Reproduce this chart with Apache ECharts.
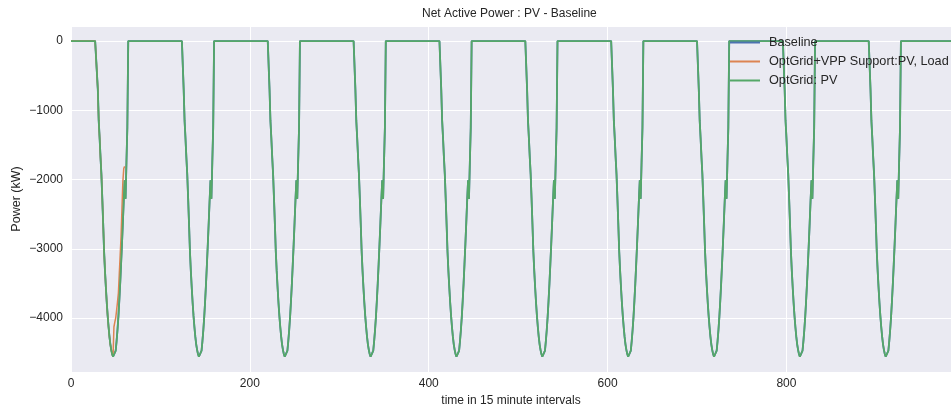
<!DOCTYPE html>
<html>
<head>
<meta charset="utf-8">
<script src="https://cdn.jsdelivr.net/npm/echarts@6/dist/echarts.min.js"></script>
<style>
html,body{margin:0;padding:0;background:#fff;}
#chart{width:951px;height:409px;}
</style>
</head>
<body>
<div id="chart"></div>
<script>
// ---- data ----
const seriesNames = ['Baseline', 'OptGrid+VPP Support:PV, Load', 'OptGrid: PV'];
const intervalsPerDay = 96;
const numIntervals = 990;
// daily PV dip (kW), intervals 29..64 of each day, 0 elsewhere
const pvDipStart = 29;
const pvDipValues = [0, -700, -1150, -1400, -1680, -1930, -2280, -2650, -3040, -3320,
  -3560, -3780, -3970, -4130, -4270, -4380, -4460, -4520, -4560, -4575,
  -4560, -4470, -4330, -4170, -3980, -3750, -3500, -3220, -2930, -2620,
  -2300, -2010, -2280, -1750, -1250, 0];
// OptGrid+VPP series: follows PV until interval 47, then these values (48..60), then ends
const vppDevStart = 48;
const vppDevValues = [-4130, -4060, -4000, -3890, -3770, -3640, -3360, -3090, -2820, -2420, -2030, -1840, -1810];
const xTicks = [0, 200, 400, 600, 800];
const yTicks = [-4000, -3000, -2000, -1000, 0];

// ---- build series ----
function pvAt(i) {
  const d = i % intervalsPerDay;
  const k = d - pvDipStart;
  return (k >= 0 && k < pvDipValues.length) ? pvDipValues[k] : 0;
}
const pvData = [];
for (let i = 0; i < numIntervals; i++) pvData.push([i, pvAt(i)]);
const baselineData = pvData.map(p => [p[0], p[1]]);
const vppData = [];
for (let i = 0; i < vppDevStart; i++) vppData.push([i, pvAt(i)]);
vppDevValues.forEach((v, k) => vppData.push([vppDevStart + k, v]));

const FONT = 'Liberation Sans, Arial, sans-serif';
const TXT = '#262626';
const chart = echarts.init(document.getElementById('chart'), null, {renderer: 'canvas'});
chart.setOption({
  animation: false,
  backgroundColor: '#ffffff',
  textStyle: {fontFamily: FONT},
  graphic: [{
    type: 'text', left: 510 - 88, top: 8,
    style: {text: 'Net Active Power : PV - Baseline', fontSize: 12, fontFamily: FONT, fill: TXT}
  }],
  grid: {left: 71, right: 0, top: 26, bottom: 37, backgroundColor: '#EAEAF2', show: true, borderWidth: 0,
    containLabel: false, outerBoundsMode: 'none'},
  legend: {
    orient: 'vertical', left: 730, top: 36, padding: 0, itemWidth: 30, itemHeight: 2, itemGap: 6,
    icon: 'rect',
    textStyle: {fontSize: 12.7, color: TXT, fontFamily: FONT, padding: [0, 0, 0, 4]},
    data: seriesNames
  },
  xAxis: {
    type: 'value', min: 0, max: 984, interval: 200,
    name: 'time in 15 minute intervals', nameLocation: 'middle', nameGap: 20,
    nameTextStyle: {fontSize: 12, color: TXT, fontFamily: FONT},
    axisLine: {show: false}, axisTick: {show: false},
    axisLabel: {
      fontSize: 12, color: TXT, margin: 6, fontFamily: FONT,
      formatter: v => xTicks.indexOf(v) >= 0 ? String(v) : ''
    },
    splitLine: {show: true, lineStyle: {color: '#ffffff', width: 1}}
  },
  yAxis: {
    type: 'value', min: -4780, max: 217, splitNumber: 5,
    name: 'Power (kW)', nameLocation: 'middle', nameGap: 48, nameRotate: 90, nameMoveOverlap: false,
    nameTextStyle: {fontSize: 12.5, color: TXT, fontFamily: FONT},
    axisLine: {show: false}, axisTick: {show: false},
    axisLabel: {
      fontSize: 12, color: TXT, margin: 8, fontFamily: FONT,
      formatter: v => yTicks.indexOf(v) >= 0 ? String(v).replace('-', '\u2212') : ''
    },
    splitLine: {show: true, lineStyle: {color: '#ffffff', width: 1}}
  },
  series: [
    {name: seriesNames[0], type: 'line', data: baselineData, showSymbol: false, symbol: 'none',
      lineStyle: {color: '#4C72B0', width: 1.8}, itemStyle: {color: '#4C72B0'}},
    {name: seriesNames[1], type: 'line', data: vppData, showSymbol: false, symbol: 'none',
      lineStyle: {color: '#DD8452', width: 1.5}, itemStyle: {color: '#DD8452'}},
    {name: seriesNames[2], type: 'line', data: pvData, showSymbol: false, symbol: 'none',
      lineStyle: {color: '#55A868', width: 1.8}, itemStyle: {color: '#55A868'}}
  ]
});
</script>
</body>
</html>
